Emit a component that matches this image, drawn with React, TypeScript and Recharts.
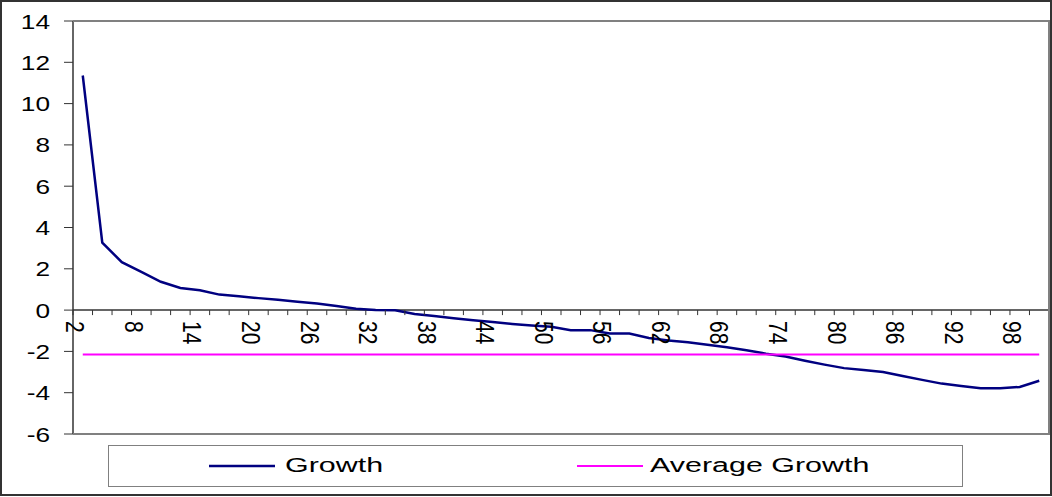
import React from 'react';
import { LineChart, Line, XAxis, YAxis, ReferenceLine } from 'recharts';

// categories on the x axis (every second value from 2 to 100)
const categories = [
  2, 4, 6, 8, 10, 12, 14, 16, 18, 20,
  22, 24, 26, 28, 30, 32, 34, 36, 38, 40,
  42, 44, 46, 48, 50, 52, 54, 56, 58, 60,
  62, 64, 66, 68, 70, 72, 74, 76, 78, 80,
  82, 84, 86, 88, 90, 92, 94, 96, 98, 100,
];

const growth = [
  11.36, 3.27, 2.32, 1.85, 1.37, 1.07, 0.96, 0.75, 0.67, 0.58,
  0.5, 0.41, 0.32, 0.2, 0.06, 0, -0.01, -0.19, -0.29, -0.39,
  -0.49, -0.58, -0.67, -0.74, -0.81, -0.97, -0.97, -1.13, -1.13, -1.35,
  -1.47, -1.56, -1.68, -1.8, -1.94, -2.11, -2.25, -2.45, -2.64, -2.81,
  -2.9, -3.0, -3.19, -3.38, -3.56, -3.68, -3.78, -3.78, -3.72, -3.42,
];

const averageGrowth = -2.15;

const xLabels = [2, 8, 14, 20, 26, 32, 38, 44, 50, 56, 62, 68, 74, 80, 86, 92, 98];
const yTicks = [-6, -4, -2, 0, 2, 4, 6, 8, 10, 12, 14];

const W = 1052;
const H = 497;
const X_AXIS_H = 1;
const M = { top: 21, right: 3, bottom: 62, left: 0 };
const Y_AXIS_W = 73;
const Y_MIN = -6;
const Y_MAX = 14;
const PLOT_H = H - M.top - M.bottom - X_AXIS_H;
const PLOT_W = W - M.right - Y_AXIS_W;
const BAND = PLOT_W / categories.length;
const ZERO_Y = M.top + (PLOT_H * Y_MAX) / (Y_MAX - Y_MIN);

const FONT = '"Liberation Sans", Arial, sans-serif';
const NAVY = '#000080';
const MAGENTA = '#FF00FF';

const rows = categories.map((cat, i) => ({ cat, growth: growth[i], avg: averageGrowth }));

// category ticks sit on the zero line, tick marks between categories
const renderCategoryTick = (props: any) => {
  const { x, payload, index } = props;
  const left = x - BAND / 2;
  return (
    <g key={`ct-${index}`}>
      <line x1={left} x2={left} y1={ZERO_Y} y2={ZERO_Y + 5} stroke="#333" />
      {index === categories.length - 1 && (
        <line x1={x + BAND / 2} x2={x + BAND / 2} y1={ZERO_Y} y2={ZERO_Y + 5} stroke="#333" />
      )}
      {xLabels.includes(payload.value) && (
        <text
          transform={`translate(${x - 16.5},${ZERO_Y + 11}) scale(1.25,1) rotate(90)`}
          fontSize={21}
          fontFamily={FONT}
          fill="#000"
        >
          {payload.value}
        </text>
      )}
    </g>
  );
};

const renderValueTick = (props: any) => {
  const { y, payload, index } = props;
  return (
    <text
      key={`vt-${index}`}
      transform={`translate(50,${y + 7.5}) scale(1.25,1)`}
      textAnchor="end"
      fontSize={21}
      fontFamily={FONT}
      fill="#000"
    >
      {payload.value}
    </text>
  );
};

const LegendBox = () => (
  <div
    style={{
      position: 'absolute',
      left: 108,
      top: 445,
      width: 855,
      height: 42,
      border: '1.5px solid #808080',
      boxSizing: 'border-box',
    }}
  >
    <svg width={852} height={39} style={{ position: 'absolute', left: 0, top: 0 }}>
      <line x1={100} x2={166} y1={20} y2={20} stroke={NAVY} strokeWidth={2.5} />
      <text transform="translate(176,26) scale(1.45,1)" fontSize={21} fontFamily={FONT} fill="#000">
        Growth
      </text>
      <line x1={468} x2={534} y1={20} y2={20} stroke={MAGENTA} strokeWidth={2} />
      <text transform="translate(541,26) scale(1.45,1)" fontSize={21} fontFamily={FONT} fill="#000">
        Average Growth
      </text>
    </svg>
  </div>
);

const App: React.FC = () => {
  return (
    <div style={{ position: 'absolute', left: 0, top: 0, width: W, height: H, background: '#fff' }}>
      <LineChart width={W} height={H} data={rows} margin={M}>
        <XAxis
          dataKey="cat"
          scale="band"
          height={X_AXIS_H}
          axisLine={false}
          tickLine={false}
          interval={0}
          tick={renderCategoryTick}
        />
        <YAxis
          width={Y_AXIS_W}
          domain={[Y_MIN, Y_MAX]}
          ticks={yTicks}
          interval={0}
          axisLine={{ stroke: '#333', strokeWidth: 1.5 }}
          tickLine={{ stroke: '#333' }}
          tickSize={9}
          tick={renderValueTick}
        />
        <ReferenceLine y={0} stroke="#333" strokeWidth={1.5} />
        <Line
          type="linear"
          dataKey="growth"
          stroke={NAVY}
          strokeWidth={2.5}
          dot={false}
          isAnimationActive={false}
        />
        <Line
          type="linear"
          dataKey="avg"
          stroke={MAGENTA}
          strokeWidth={2}
          dot={false}
          isAnimationActive={false}
        />
      </LineChart>
      {/* plot area frame */}
      <div
        style={{
          position: 'absolute',
          left: 73,
          top: 20,
          width: 977,
          height: 415,
          borderTop: '2px solid #808080',
          borderRight: '2px solid #808080',
          borderBottom: '2px solid #808080',
          boxSizing: 'border-box',
          pointerEvents: 'none',
        }}
      />
      <LegendBox />
      {/* chart frame */}
      <div
        style={{
          position: 'absolute',
          left: 0,
          top: 0,
          width: W,
          height: 496,
          border: '2px solid #333',
          boxSizing: 'border-box',
          pointerEvents: 'none',
        }}
      />
    </div>
  );
};

export default App;
